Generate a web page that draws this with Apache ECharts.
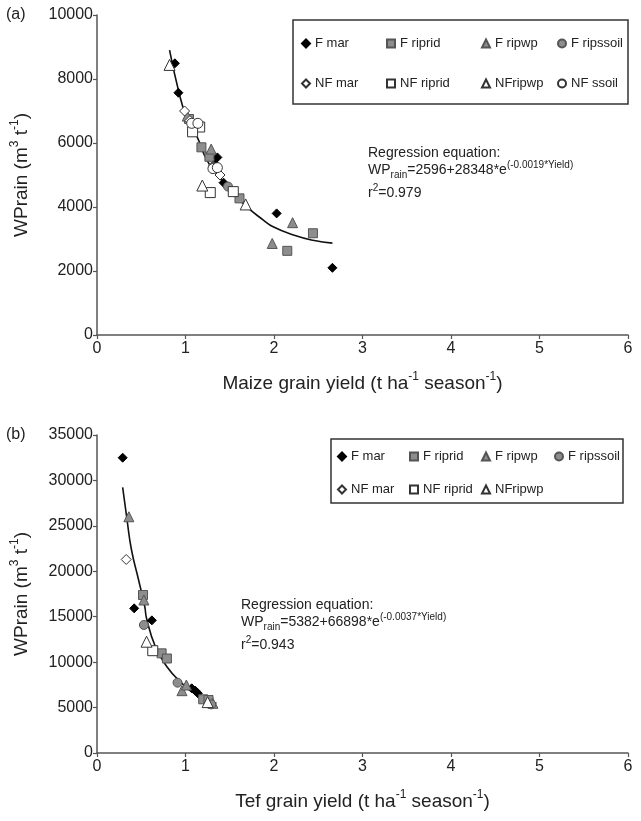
<!DOCTYPE html>
<html>
<head>
<meta charset="utf-8">
<script src="https://cdn.jsdelivr.net/npm/echarts@6/dist/echarts.min.js"></script>
<style>
  html, body { margin: 0; padding: 0; background: #fff; }
  #main { width: 641px; height: 821px; }
</style>
</head>
<body>
<div id="main"></div>
<script>
// ---- panel (a) maize: [yield t/ha, WPrain m3/t]
var aFmar      = [[0.88,8490],[0.92,7570],[1.36,5550],[1.33,5340],[1.43,4760],[2.03,3800],[2.66,2100]];
var aFriprid   = [[1.04,6750],[1.18,5865],[1.27,5570],[1.61,4270],[2.44,3180],[2.15,2630]];
var aFripwp    = [[1.02,6840],[1.29,5810],[2.21,3510],[1.98,2860]];
var aFripssoil = [[1.12,6560],[1.31,5250],[1.48,4640]];
var aNFmar     = [[0.99,7000],[1.05,6700],[1.39,5000]];
var aNFriprid  = [[1.16,6500],[1.08,6350],[1.28,4450],[1.54,4480]];
var aNFripwp   = [[0.82,8440],[1.19,4670],[1.68,4080]];
var aNFssoil   = [[1.07,6615],[1.14,6615],[1.31,5200],[1.36,5230]];
var aFitX = [0.82,0.92,1.01,1.13,1.24,1.35,1.50,1.69,1.88,1.99,2.22,2.44,2.66];
var aFitY = [8900,7650,6820,6200,5470,5050,4530,4010,3590,3380,3125,2960,2870];

// ---- panel (b) tef
var bFmar      = [[0.29,32500],[0.42,15920],[0.62,14600],[1.07,7120],[1.11,6860],[1.14,6570]];
var bFriprid   = [[0.52,17390],[0.73,10970],[0.79,10400],[1.20,5910],[1.26,5830]];
var bFripwp    = [[0.36,26000],[0.53,16840],[0.96,6860],[1.01,7480],[1.31,5470]];
var bFripssoil = [[0.53,14090],[0.91,7740],[1.29,5350]];
var bNFmar     = [[0.33,21300]];
var bNFriprid  = [[0.63,11260]];
var bNFripwp   = [[0.56,12250],[1.25,5600]];
var bFitX = [0.29,0.34,0.39,0.47,0.54,0.56,0.66,0.79,0.94,1.13,1.35];
var bFitY = [29240,25640,22340,19040,16100,14800,11700,9500,7850,6380,5470];

var xTicks = [0,1,2,3,4,5,6];
var aYTicks = [0,2000,4000,6000,8000,10000];
var bYTicks = [0,5000,10000,15000,20000,25000,30000,35000];

var FONT = '"Liberation Sans", Arial, sans-serif';
var grey = '#8d8d8d', edge = '#555';

var styles = {
  'F mar':     { symbol: 'diamond', size: 9,  color: '#000', border: '#000' },
  'F riprid':  { symbol: 'rect',    size: 9,  color: grey,   border: edge },
  'F ripwp':   { symbol: 'triangle',size: 10, color: grey,   border: edge },
  'F ripssoil':{ symbol: 'circle',  size: 9,  color: grey,   border: edge },
  'NF mar':    { symbol: 'diamond', size: 10, color: '#fff', border: '#333' },
  'NF riprid': { symbol: 'rect',    size: 10, color: '#fff', border: '#333' },
  'NFripwp':   { symbol: 'triangle',size: 11, color: '#fff', border: '#333' },
  'NF ssoil':  { symbol: 'circle',  size: 10, color: '#fff', border: '#333' }
};

function sc(name, data, idx) {
  var s = styles[name];
  return {
    name: name, type: 'scatter', xAxisIndex: idx, yAxisIndex: idx,
    symbol: s.symbol, symbolSize: s.size, data: data, z: 3,
    itemStyle: { color: s.color, borderColor: s.border, borderWidth: 1, opacity: 1 }
  };
}
function fit(xs, ys, idx) {
  var d = [];
  for (var i = 0; i < xs.length; i++) d.push([xs[i], ys[i]]);
  return { name: 'fit', type: 'line', xAxisIndex: idx, yAxisIndex: idx, data: d,
    smooth: true, showSymbol: false, silent: true, z: 2,
    lineStyle: { color: '#111', width: 1.6 } };
}

var axisLineStyle = { show: true, lineStyle: { color: '#555', width: 1.5 } };
var tickStyle = { show: true, length: 4, lineStyle: { color: '#555', width: 1.2 } };
var labelStyle = { color: '#222', fontSize: 16, fontFamily: FONT };

var supRich = {
  n: { fontSize: 19, fontFamily: FONT, color: '#222', lineHeight: 22, verticalAlign: 'bottom' },
  s: { fontSize: 12, fontFamily: FONT, color: '#222', lineHeight: 22, verticalAlign: 'top', padding: [0,0,0,0] }
};
function xName(label) { return '{n|' + label + ' (t ha}{s|-1}{n| season}{s|-1}{n|)}'; }
var yName = '{n|WPrain (m}{s|3}{n| t}{s|-1}{n|)}';

function xAx(idx) {
  return { type: 'value', gridIndex: idx, min: 0, max: 6, interval: 1,
    axisLine: axisLineStyle, axisTick: tickStyle, splitLine: { show: false },
    axisLabel: Object.assign({ margin: 6, formatter: function (v) { return xTicks.indexOf(v) >= 0 ? v : ''; } }, labelStyle),
    name: xName(idx === 0 ? 'Maize grain yield' : 'Tef grain yield'),
    nameLocation: 'middle', nameGap: 36,
    nameTextStyle: { rich: supRich } };
}
function yAx(idx, max, step, ticks) {
  return { type: 'value', gridIndex: idx, min: 0, max: max, interval: step,
    axisLine: axisLineStyle, axisTick: tickStyle, splitLine: { show: false },
    axisLabel: Object.assign({ margin: 4, formatter: function (v) { return ticks.indexOf(v) >= 0 ? v : ''; } }, labelStyle),
    name: yName, nameLocation: 'middle', nameGap: 66, nameRotate: 90,
    nameTextStyle: { rich: supRich } };
}

function legendCol(names, left, top, gap) {
  return { data: names, orient: 'vertical', left: left, top: top, itemGap: gap,
    itemWidth: 8, itemHeight: 8, padding: 0, selectedMode: false,
    textStyle: { fontSize: 13, fontFamily: FONT, color: '#222', padding: [0,0,0,0] } };
}

var eqRich = {
  n: { fontSize: 14, fontFamily: FONT, fill: '#222', lineHeight: 20 },
  sub: { fontSize: 10, fontFamily: FONT, fill: '#222', verticalAlign: 'bottom', lineHeight: 16, padding: [6,0,0,0] },
  sup: { fontSize: 10, fontFamily: FONT, fill: '#222', verticalAlign: 'top', lineHeight: 16, padding: [0,0,6,0] }
};
function eqText(x, y, a, b, k, r2) {
  return [
    { type: 'text', left: x, top: y, style: { text: 'Regression equation:', font: '14px ' + FONT, fill: '#222' } },
    { type: 'text', left: x, top: y + 14, style: {
      text: '{n|WP}{sub|rain}{n|=' + a + '+' + b + '*e}{sup|(' + k + '*Yield)}', rich: eqRich } },
    { type: 'text', left: x, top: y + 37, style: {
      text: '{n|r}{sup|2}{n|=' + r2 + '}', rich: eqRich } }
  ];
}

var chart = echarts.init(document.getElementById('main'), null, { renderer: 'canvas' });
chart.setOption({
  backgroundColor: '#fff',
  animation: false,
  grid: [
    { left: 97, top: 15, width: 531, height: 320 },
    { left: 97, top: 435, width: 531, height: 318 }
  ],
  xAxis: [xAx(0), xAx(1)],
  yAxis: [yAx(0, 10000, 2000, aYTicks), yAx(1, 35000, 5000, bYTicks)],
  legend: [
    legendCol(['F mar', 'NF mar'], 301, 37, 27),
    legendCol(['F riprid', 'NF riprid'], 386, 37, 27),
    legendCol(['F ripwp', 'NFripwp'], 481, 37, 27),
    legendCol(['F ripssoil', 'NF ssoil'], 557, 37, 27),
    legendCol(['F mar', 'NF mar'], 337, 450, 20),
    legendCol(['F riprid', 'NF riprid'], 409, 450, 20),
    legendCol(['F ripwp', 'NFripwp'], 481, 450, 20),
    legendCol(['F ripssoil'], 554, 450, 20)
  ],
  graphic: [
    { type: 'rect', shape: { x: 293, y: 20, width: 335, height: 84 }, style: { fill: 'none', stroke: '#333', lineWidth: 1.5 }, z: 0 },
    { type: 'rect', shape: { x: 331, y: 439, width: 292, height: 64 }, style: { fill: 'none', stroke: '#333', lineWidth: 1.5 }, z: 0 },
    { type: 'text', left: 6, top: 7, style: { text: '(a)', font: '16px ' + FONT, fill: '#222' } },
    { type: 'text', left: 6, top: 427, style: { text: '(b)', font: '16px ' + FONT, fill: '#222' } }
  ].concat(eqText(368, 146, 2596, 28348, '-0.0019', '0.979'))
   .concat(eqText(241, 598, 5382, 66898, '-0.0037', '0.943')),
  series: [
    sc('F mar', aFmar, 0), sc('F riprid', aFriprid, 0), sc('F ripwp', aFripwp, 0), sc('F ripssoil', aFripssoil, 0),
    sc('NF mar', aNFmar, 0), sc('NF riprid', aNFriprid, 0), sc('NFripwp', aNFripwp, 0), sc('NF ssoil', aNFssoil, 0),
    fit(aFitX, aFitY, 0),
    sc('F mar', bFmar, 1), sc('F riprid', bFriprid, 1), sc('F ripwp', bFripwp, 1), sc('F ripssoil', bFripssoil, 1),
    sc('NF mar', bNFmar, 1), sc('NF riprid', bNFriprid, 1), sc('NFripwp', bNFripwp, 1),
    fit(bFitX, bFitY, 1)
  ]
});
</script>
</body>
</html>
